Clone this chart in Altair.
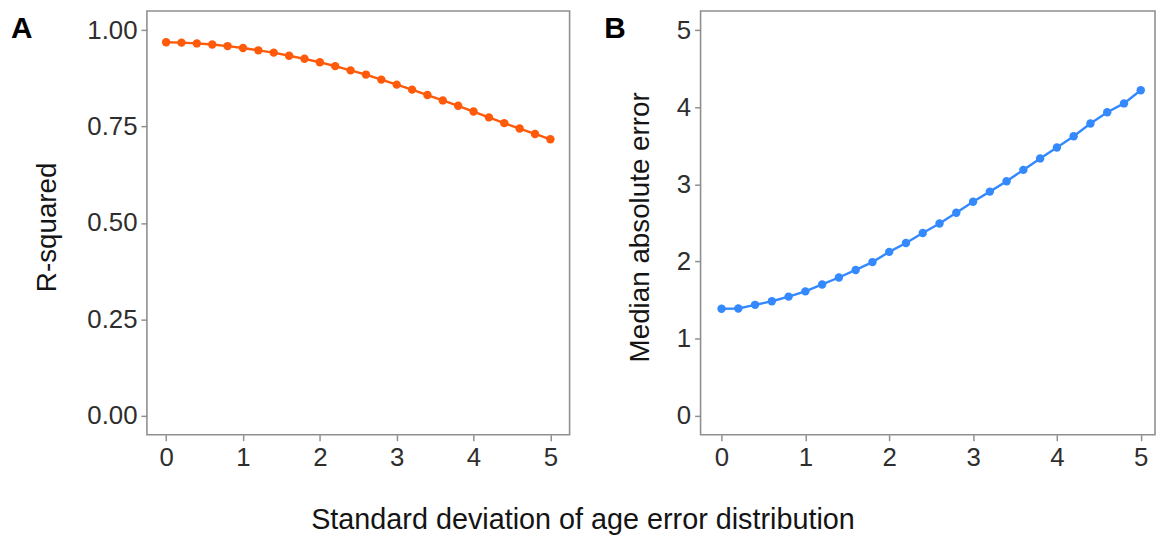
import altair as alt
import pandas as pd

# ---- data ----
sd_error = [0.0, 0.2, 0.4, 0.6, 0.8, 1.0, 1.2, 1.4, 1.6, 1.8, 2.0, 2.2, 2.4,
            2.6, 2.8, 3.0, 3.2, 3.4, 3.6, 3.8, 4.0, 4.2, 4.4, 4.6, 4.8, 5.0]
r_squared = [0.969, 0.968, 0.966, 0.963, 0.959, 0.954, 0.948, 0.942, 0.934,
             0.926, 0.917, 0.907, 0.896, 0.885, 0.872, 0.859, 0.846, 0.832,
             0.818, 0.804, 0.789, 0.774, 0.759, 0.745, 0.731, 0.717]
median_abs_error = [1.385, 1.389, 1.436, 1.483, 1.543, 1.611, 1.701, 1.791,
                    1.889, 1.991, 2.124, 2.239, 2.368, 2.491, 2.632, 2.774,
                    2.906, 3.040, 3.188, 3.337, 3.479, 3.624, 3.791, 3.936,
                    4.051, 4.222]
panel_letters = ["A", "B"]
x_ticks = [0, 1, 2, 3, 4, 5]
r2_ticks = [0.0, 0.25, 0.5, 0.75, 1.0]
mae_ticks = [0, 1, 2, 3, 4, 5]
y_titles = ["R-squared", "Median absolute error"]
x_title = "Standard deviation of age error distribution"

df = pd.DataFrame({"sd": sd_error, "r2": r_squared, "mae": median_abs_error})

FONT = "Liberation Sans"
GRAY = "#8f8f8f"
LABEL = "#2e2e2e"
TITLE = "#141414"
H = 427


def panel(col, color, ydom, yticks, yfmt, ytitle, title_x, xdom, width,
          letter, letter_x):
    x = alt.X("sd:Q",
              scale=alt.Scale(domain=xdom, nice=False, zero=False),
              axis=alt.Axis(values=x_ticks, format="d", title=None))
    y = alt.Y(f"{col}:Q",
              scale=alt.Scale(domain=ydom, nice=False, zero=False),
              axis=alt.Axis(values=yticks, format=yfmt, title=ytitle,
                            titleX=title_x, titleY=H / 2 + 4,
                            titleBaseline="middle", titleAlign="center"))
    base = alt.Chart(df)
    line = base.mark_line(color=color, strokeWidth=2.4).encode(x=x, y=y)
    pts = base.mark_circle(color=color, size=72, opacity=1).encode(x=x, y=y)
    lab = alt.Chart(pd.DataFrame({"letter": [letter]})).mark_text(
        align="left", baseline="alphabetic", fontSize=30, fontWeight="bold",
        font=FONT, color="black"
    ).encode(text="letter:N", x=alt.value(letter_x), y=alt.value(27))
    return alt.layer(line, pts, lab).properties(width=width, height=H)


pa = panel("r2", "#ff5a0a", [-0.05, 1.05], r2_ticks, ".2f", y_titles[0],
           -100, [-0.25, 5.25], 426, panel_letters[0], -137)
pb = panel("mae", "#3489ff", [-0.25, 5.25], mae_ticks, "d", y_titles[1],
           -60, [-0.25, 5.17], 458, panel_letters[1], -97)

chart = alt.hconcat(pa, pb, spacing=33).properties(
    title=alt.TitleParams(x_title, orient="bottom", anchor="middle",
                          fontSize=29, fontWeight="normal", font=FONT,
                          color=TITLE, offset=35),
    padding={"left": 2, "top": 0, "right": 0, "bottom": 0},
).configure_view(
    stroke=GRAY, strokeWidth=1.6
).configure_axis(
    domain=False, grid=False, ticks=True, tickColor=GRAY, tickSize=6,
    tickWidth=1.5, labelFont=FONT, labelFontSize=26, labelColor=LABEL,
    labelPadding=4, titleFont=FONT, titleFontSize=28,
    titleFontWeight="normal", titleColor=TITLE
)

chart.save("out.html", embed_options={"renderer": "svg", "actions": False})
